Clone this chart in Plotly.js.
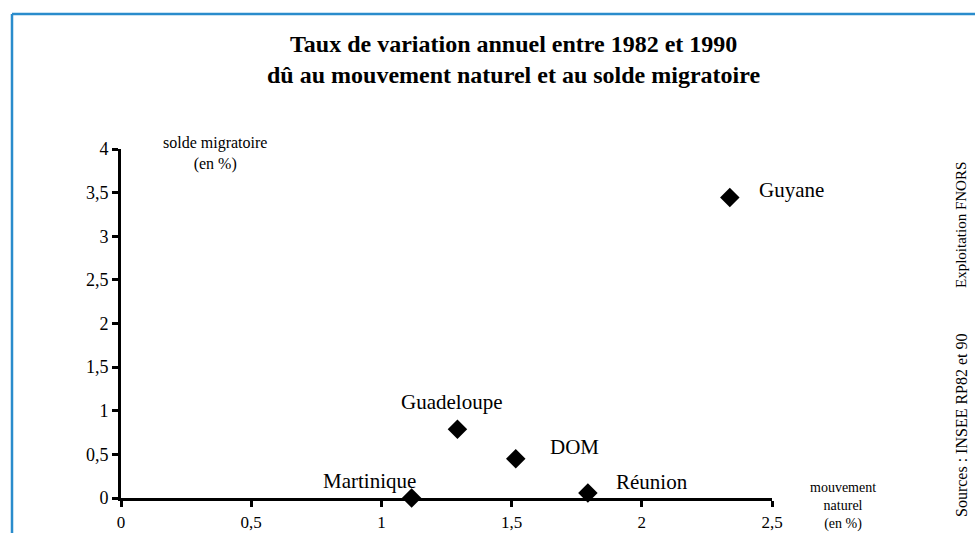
<!DOCTYPE html>
<html>
<head>
<meta charset="utf-8">
<script src="https://cdn.plot.ly/plotly-3.0.1.min.js"></script>
<style>
html,body{margin:0;padding:0;background:#fff;}
#chart{width:975px;height:533px;}
</style>
</head>
<body>
<div id="chart"></div>
<script>
// Data
const territoires = ["Guyane", "Guadeloupe", "DOM", "Martinique", "Réunion"];
const mouvementNaturel = [2.338, 1.292, 1.516, 1.116, 1.793];
const soldeMigratoire = [3.444, 0.787, 0.450, 0.0, 0.056];
const xTicks = [0, 0.5, 1, 1.5, 2, 2.5];
const yTicks = [0, 0.5, 1, 1.5, 2, 2.5, 3, 3.5, 4];
const titleLines = ["Taux de variation annuel entre 1982 et 1990",
                    "dû au mouvement naturel et au solde migratoire"];

// Label placement (style)
const labelStyle = {
  "Guyane":     {xanchor: "left",   xshift: 27,  yshift: 8},
  "Guadeloupe": {xanchor: "center", xshift: -6,  yshift: 27},
  "DOM":        {xanchor: "left",   xshift: 32,  yshift: 12},
  "Martinique": {xanchor: "center", xshift: -42, yshift: 17},
  "Réunion":    {xanchor: "left",   xshift: 26,  yshift: 11}
};

const serif = "Liberation Serif";

// pixel helpers for placing page texts (plot area: l=121, w=651, b=35, h=349)
const px = x => (x - 121) / 651;
const py = y => (533 - 35 - y) / 349;

const trace = {
  type: "scatter",
  mode: "markers",
  x: mouvementNaturel,
  y: soldeMigratoire,
  cliponaxis: false,
  marker: {symbol: "diamond", size: 15, color: "#000", line: {width: 0}},
  hoverinfo: "skip"
};

const annotations = territoires.map((t, i) => ({
  x: mouvementNaturel[i], y: soldeMigratoire[i], xref: "x", yref: "y",
  text: t, showarrow: false,
  xanchor: labelStyle[t].xanchor, yanchor: "middle",
  xshift: labelStyle[t].xshift, yshift: labelStyle[t].yshift,
  font: {family: serif, size: 21, color: "#000"}
}));

function pageText(text, x, y, size, angle) {
  annotations.push({
    xref: "paper", yref: "paper", x: px(x), y: py(y),
    text: text, showarrow: false, textangle: angle || 0,
    xanchor: "center", yanchor: "middle", align: "center",
    font: {family: serif, size: size, color: "#000"}
  });
}
pageText("<b>" + titleLines[0] + "</b>", 513, 44, 24);
pageText("<b>" + titleLines[1] + "</b>", 513, 75, 24);
pageText("solde migratoire<br>(en %)", 215, 153, 16);
pageText("mouvement<br>naturel<br>(en %)", 843, 506, 14);
pageText("Exploitation FNORS", 961, 225, 15, -90);
pageText("Sources : INSEE RP82 et 90", 961, 425, 16, -90);

const layout = {
  width: 975, height: 533,
  margin: {l: 121, r: 203, t: 149, b: 35, pad: 0},
  paper_bgcolor: "#fff", plot_bgcolor: "#fff",
  separators: ", ",
  showlegend: false,
  font: {family: serif, color: "#000"},
  xaxis: {
    range: [0, 2.5], tickvals: xTicks, ticks: "outside", ticklen: 6, tickwidth: 3, tickcolor: "#000",
    showline: true, linewidth: 3, linecolor: "#000", showgrid: false, zeroline: false,
    ticklabelstandoff: 1,
    tickfont: {family: serif, size: 17, color: "#000"}, fixedrange: true
  },
  yaxis: {
    range: [0, 4], tickvals: yTicks, ticks: "outside", ticklen: 6, tickwidth: 3, tickcolor: "#000",
    showline: true, linewidth: 3, linecolor: "#000", showgrid: false, zeroline: false,
    tickfont: {family: serif, size: 18, color: "#000"}, fixedrange: true
  },
  annotations: annotations,
  shapes: [
    {type: "line", xref: "paper", yref: "paper",
     x0: px(12), x1: px(980), y0: py(14), y1: py(14),
     line: {color: "#2a8ccc", width: 2.5}},
    {type: "line", xref: "paper", yref: "paper",
     x0: px(12), x1: px(12), y0: py(14), y1: py(540),
     line: {color: "#2a8ccc", width: 2.5}}
  ]
};

Plotly.newPlot("chart", [trace], layout, {displayModeBar: false, staticPlot: true});
</script>
</body>
</html>
